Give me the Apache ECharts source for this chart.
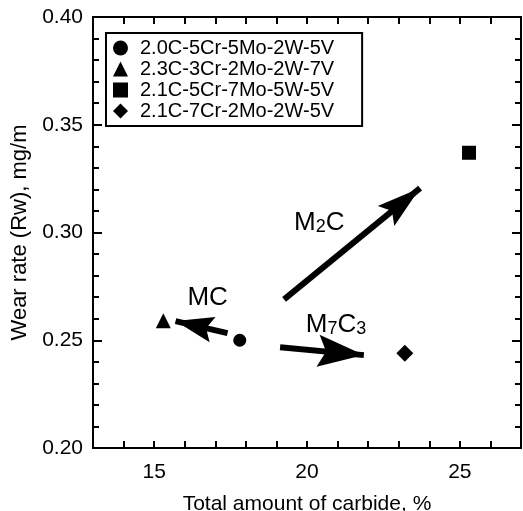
<!DOCTYPE html>
<html><head><meta charset="utf-8">
<script src="https://cdn.jsdelivr.net/npm/echarts@6/dist/echarts.min.js"></script>
<style>html,body{margin:0;padding:0;background:#fff}#c{width:523px;height:511px}</style>
</head><body><div id="c"></div>
<script>
// Alloy names (legend entries)
var alloys = ['2.0C-5Cr-5Mo-2W-5V', '2.3C-3Cr-2Mo-2W-7V', '2.1C-5Cr-7Mo-5W-5V', '2.1C-7Cr-2Mo-2W-5V'];
var symbols = ['circle', 'triangle', 'rect', 'diamond'];
// Total amount of carbide (%)
var carbide = [17.8, 15.3, 25.3, 23.2];
// Wear rate (mg/m)
var wearRate = [0.250, 0.259, 0.337, 0.244];
// Arrow annotations: [x1, y1, x2, y2]
var arrowMC = [17.4, 0.2533, 15.7, 0.2589];
var arrowM2C = [19.25, 0.269, 23.7, 0.3206];
var arrowM7C3 = [19.12, 0.2468, 21.86, 0.2431];
// Arrow labels: [x, y]
var labelMC = [16.75, 0.2695];
var labelM2C = [20.4, 0.3044];
var labelM7C3 = [20.95, 0.257];
// Axis tick labels shown
var xLabels = [15, 20, 25];
var yLabels = ['0.20', '0.25', '0.30', '0.35', '0.40'];

var FONT = 'Liberation Sans';
var HEAD = 'path://M10,0 L20,40 L10,33 L0,40 Z';
var chart = echarts.init(document.getElementById('c'));

var series = alloys.map(function (name, i) {
  return {
    name: name, type: 'scatter', symbol: symbols[i],
    symbolSize: [13, 15, 14, 17][i],
    itemStyle: {color: '#000', opacity: 1},
    data: [[carbide[i], wearRate[i]]],
    z: 5
  };
});

function seg(a, size) {
  var off = [0, size[1] / 2];
  return [{coord: [a[0], a[1]], symbolSize: size, symbolOffset: off},
          {coord: [a[2], a[3]], symbolSize: size, symbolOffset: off}];
}
series.push({
  type: 'scatter', symbolSize: 0, silent: true, data: [],
  markLine: {
    silent: true, animation: false,
    symbol: ['none', HEAD],
    label: {show: false},
    lineStyle: {color: '#000', type: 'solid', width: 6, opacity: 1},
    data: [seg(arrowMC, [26, 38]), seg(arrowM2C, [26, 44]), seg(arrowM7C3, [32, 46])]
  }
});

var rich = {
  m: {fontFamily: FONT, fontSize: 26, color: '#000', verticalAlign: 'bottom', lineHeight: 26},
  s: {fontFamily: FONT, fontSize: 18, color: '#000', verticalAlign: 'bottom', lineHeight: 23}
};
series.push({
  type: 'scatter', symbolSize: 0, silent: true,
  itemStyle: {opacity: 1},
  data: [
    {value: labelMC, label: {formatter: '{m|MC}'}},
    {value: labelM2C, label: {formatter: '{m|M}{s|2}{m|C}'}},
    {value: labelM7C3, label: {formatter: '{m|M}{s|7}{m|C}{s|3}'}}
  ],
  label: {show: true, position: 'inside', color: '#000', rich: rich}
});

chart.setOption({
  animation: false,
  backgroundColor: '#fff',
  grid: {left: 93, top: 17, right: 2, bottom: 63, containLabel: false, outerBoundsMode: 'none'},
  legend: {
    data: alloys, orient: 'vertical', left: 106, top: 33,
    backgroundColor: '#fff', borderColor: '#000', borderWidth: 2,
    padding: [5, 28, 5, 7], itemGap: 1, itemWidth: 15, itemHeight: 15,
    textStyle: {fontFamily: FONT, fontSize: 20, color: '#000', lineHeight: 18, padding: [0, 0, 0, 7]},
    selectedMode: false
  },
  xAxis: [{
    type: 'value', min: 13, max: 27, interval: 1,
    name: 'Total amount of carbide, %', nameLocation: 'middle', nameGap: 46,
    nameTextStyle: {fontFamily: FONT, fontSize: 21, color: '#000'},
    axisLine: {show: true, lineStyle: {color: '#000', width: 2}},
    axisTick: {show: true, inside: true, length: 7, lineStyle: {color: '#000', width: 2}},
    axisLabel: {fontFamily: FONT, fontSize: 21, color: '#000', margin: 14,
      formatter: function (v) { return xLabels.indexOf(v) >= 0 ? String(v) : ''; }},
    splitLine: {show: false}
  }, {
    type: 'value', min: 13, max: 27, interval: 1, position: 'top',
    axisLine: {show: true, lineStyle: {color: '#000', width: 2}},
    axisTick: {show: true, inside: true, length: 7, lineStyle: {color: '#000', width: 2}},
    axisLabel: {show: false}, splitLine: {show: false}
  }],
  yAxis: [{
    type: 'value', min: 0.2, max: 0.4, interval: 0.05,
    name: 'Wear rate (Rw), mg/m', nameLocation: 'middle', nameGap: 52,
    nameTextStyle: {fontFamily: FONT, fontSize: 22, color: '#000'},
    axisLine: {show: true, lineStyle: {color: '#000', width: 2}},
    axisTick: {show: true, inside: true, length: 9, lineStyle: {color: '#000', width: 2}},
    minorTick: {show: true, splitNumber: 5, length: 6, lineStyle: {color: '#000', width: 2}},
    axisLabel: {fontFamily: FONT, fontSize: 21, color: '#000', margin: 10,
      formatter: function (v) { return yLabels[Math.round((v - 0.2) / 0.05)]; }},
    splitLine: {show: false}
  }, {
    type: 'value', min: 0.2, max: 0.4, interval: 0.05, position: 'right',
    axisLine: {show: true, lineStyle: {color: '#000', width: 2}},
    axisTick: {show: true, inside: true, length: 9, lineStyle: {color: '#000', width: 2}},
    minorTick: {show: true, splitNumber: 5, length: 6, lineStyle: {color: '#000', width: 2}},
    axisLabel: {show: false}, splitLine: {show: false}
  }],
  series: series
});
</script></body></html>
